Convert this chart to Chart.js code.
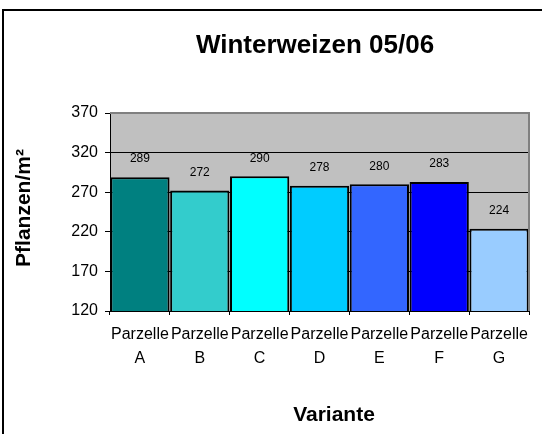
<!DOCTYPE html>
<html>
<head>
<meta charset="utf-8">
<script src="https://cdn.jsdelivr.net/npm/chart.js@4/dist/chart.umd.min.js"></script>
<style>
html,body{margin:0;padding:0;background:#fff;}
#c{display:block;}
</style>
</head>
<body>
<canvas id="c" width="542" height="434"></canvas>
<script>
const categories = [["Parzelle","A"],["Parzelle","B"],["Parzelle","C"],["Parzelle","D"],["Parzelle","E"],["Parzelle","F"],["Parzelle","G"]];
const values = [289, 272, 290, 278, 280, 283, 224];
const barColors = ["#008080","#33CCCC","#00FFFF","#00CCFF","#3366FF","#0000FF","#99CCFF"];
const yTicks = [120, 170, 220, 270, 320, 370];
const chartTitle = "Winterweizen 05/06";
const yTitle = "Pflanzen/m²";
const xTitle = "Variante";

const FONT = "'Liberation Sans', Arial, sans-serif";

const decor = {
  id: 'decor',
  beforeDraw(chart) {
    const ctx = chart.ctx, a = chart.chartArea;
    ctx.save();
    ctx.fillStyle = '#fff';
    ctx.fillRect(0, 0, chart.width, chart.height);
    ctx.fillStyle = '#C0C0C0';
    ctx.fillRect(a.left, a.top, a.right - a.left, a.bottom - a.top);
    ctx.restore();
  },
  afterDatasetsDraw(chart) {
    const ctx = chart.ctx, a = chart.chartArea;
    ctx.save();
    ctx.strokeStyle = '#808080';
    ctx.lineWidth = 2;
    ctx.beginPath();
    ctx.moveTo(a.left, a.top);
    ctx.lineTo(a.right, a.top);
    ctx.lineTo(a.right, a.bottom);
    ctx.stroke();
    const meta = chart.getDatasetMeta(0);
    ctx.fillStyle = '#000';
    ctx.font = "12px " + FONT;
    ctx.textAlign = 'center';
    ctx.textBaseline = 'middle';
    meta.data.forEach((el, i) => {
      ctx.fillText(String(values[i]), el.x, el.y - 18);
    });
    ctx.restore();
  },
  afterDraw(chart) {
    const ctx = chart.ctx;
    ctx.save();
    ctx.strokeStyle = '#000';
    ctx.lineWidth = 2;
    ctx.beginPath();
    ctx.moveTo(3, chart.height);
    ctx.lineTo(3, 10);
    ctx.lineTo(chart.width, 10);
    ctx.stroke();
    ctx.fillStyle = '#000';
    ctx.textAlign = 'center';
    ctx.textBaseline = 'middle';
    ctx.font = "bold 26px " + FONT;
    ctx.fillText(chartTitle, 315, 46);
    ctx.font = "bold 21px " + FONT;
    ctx.fillText(xTitle, 334, 415);
    ctx.translate(24, 208);
    ctx.rotate(-Math.PI / 2);
    ctx.font = "bold 21px " + FONT;
    ctx.fillText(yTitle, 0, 0);
    ctx.restore();
  }
};

new Chart(document.getElementById('c'), {
  type: 'bar',
  data: {
    labels: categories,
    datasets: [{
      data: values,
      backgroundColor: barColors,
      borderColor: '#000',
      borderWidth: 2,
      borderSkipped: false,
      barPercentage: 0.99,
      categoryPercentage: 1
    }]
  },
  options: {
    responsive: false,
    animation: false,
    devicePixelRatio: 1,
    layout: { padding: { left: 0, right: 13, top: 113, bottom: 0 } },
    plugins: { legend: { display: false }, tooltip: { enabled: false }, title: { display: false } },
    scales: {
      x: {
        afterFit(s) { s.height = 123; },
        grid: { offset: true, drawOnChartArea: false, tickLength: 4, tickColor: '#000', tickWidth: 1 },
        border: { display: true, color: '#000', width: 1 },
        ticks: {
          color: '#000',
          padding: 8,
          maxRotation: 0,
          autoSkip: false,
          font: { family: FONT, size: 16, lineHeight: 1.5 }
        }
      },
      y: {
        min: 120,
        max: 370,
        afterFit(s) { s.width = 110; },
        afterBuildTicks(s) { s.ticks = yTicks.map(v => ({ value: v })); },
        grid: {
          color: ctx => (ctx.tick && ctx.tick.value === 370) ? 'rgba(0,0,0,0)' : '#000',
          tickColor: '#000',
          tickLength: 5,
          lineWidth: 1
        },
        border: { display: true, color: '#000', width: 1 },
        ticks: {
          color: '#000',
          padding: 7,
          font: { family: FONT, size: 16 }
        }
      }
    }
  },
  plugins: [decor]
});
</script>
</body>
</html>
